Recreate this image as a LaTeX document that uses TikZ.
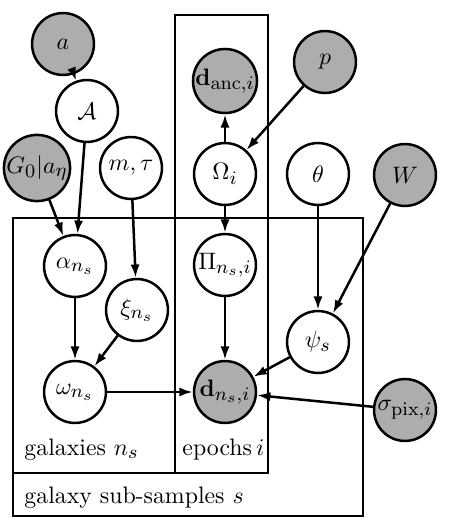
\documentclass[tikz,border=0pt]{standalone}
\usetikzlibrary{arrows.meta}
\DeclareMathSizes{10}{10}{8}{6}
\begin{document}
\begin{tikzpicture}[x=0.42pt,y=-0.42pt,
  var/.style={circle,draw,line width=1.05pt,minimum size=26pt,inner sep=0pt,fill=white},
  obs/.style={var,fill=black!32},
  edge/.style={line width=1.05pt,-{Latex[length=5.6pt,width=3.8pt]}},
  plate/.style={draw,line width=1.05pt},
  lbl/.style={anchor=base west,inner sep=0pt}]
\useasboundingbox (0,0) rectangle (460,521);
% plates
\draw[plate] (175,15) rectangle (268,473);
\draw[plate] (13,218) rectangle (175,473);
\draw[plate] (13,218) rectangle (363,516);
\node[lbl] (lgal) at (24,455) {galaxies $n_s$};
\node[lbl] (lep) at (182,455) {epochs\,$i$};
\node[lbl] (lsub) at (24,503) {galaxy sub-samples $s$};
% nodes
\node[obs] (a) at (63,44) {$a$};
\node[var] (A) at (87,111) {$\mathcal{A}$};
\node[obs] (G) at (37,168) {$G_0|a_\eta$};
\node[var] (mt) at (131,168) {$m,\tau$};
\node[obs] (danc) at (225,81) {$\mathbf{d}_{\mathrm{anc},i}$};
\node[var] (Om) at (225,174) {$\Omega_i$};
\node[obs] (p) at (325,62) {$p$};
\node[var] (th) at (318,174) {$\theta$};
\node[obs] (W) at (405,175) {$W$};
\node[var] (al) at (75,266) {$\alpha_{n_s}$};
\node[var] (xi) at (137,310) {$\xi_{n_s}$};
\node[var] (om) at (75,392) {$\omega_{n_s}$};
\node[var] (Pi) at (225,265) {$\Pi_{n_s,i}$};
\node[obs] (d) at (225,392) {$\mathbf{d}_{n_s,i}$};
\node[var] (psi) at (318,342) {$\psi_s$};
\node[obs] (sig) at (405,410) {$\sigma_{\mathrm{pix},i}$};
% edges
\draw[edge] (a) -- (A);
\draw[edge] (A) -- (al);
\draw[edge] (G) -- (al);
\draw[edge] (mt) -- (xi);
\draw[edge] (al) -- (om);
\draw[edge] (xi) -- (om);
\draw[edge] (om) -- (d);
\draw[edge] (Om) -- (danc);
\draw[edge] (p) -- (Om);
\draw[edge] (Om) -- (Pi);
\draw[edge] (Pi) -- (d);
\draw[edge] (th) -- (psi);
\draw[edge] (W) -- (psi);
\draw[edge] (psi) -- (d);
\draw[edge] (sig) -- (d);
\end{tikzpicture}
\end{document}
